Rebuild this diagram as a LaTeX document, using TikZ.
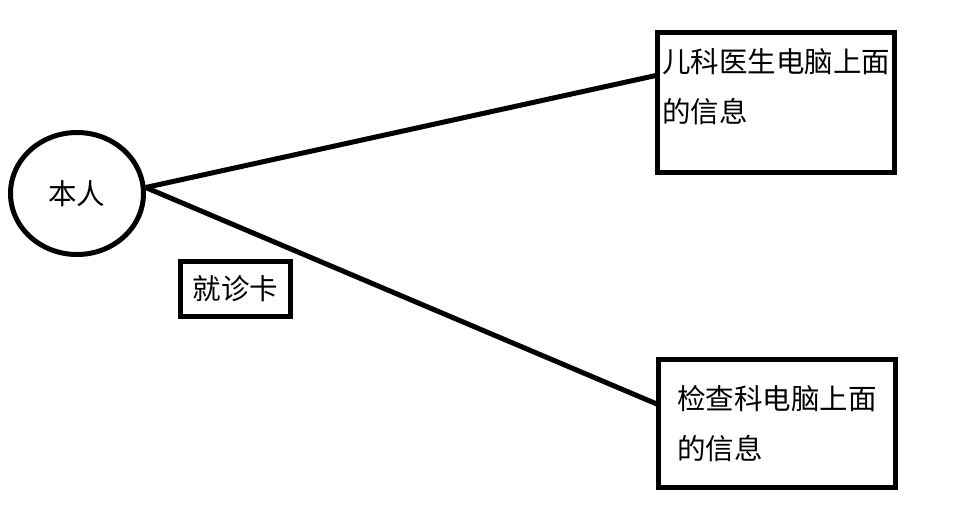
\documentclass[tikz,border=0pt]{standalone}
\usepackage{fontspec}
\newfontfamily\cjk{Noto Sans CJK SC}
\usetikzlibrary{shapes,positioning}

\begin{document}
\begin{tikzpicture}[
    x=1pt, y=-1pt,
    every node/.style={font=\cjk\fontsize{28.5}{49.5}\selectfont},
    person/.style={ellipse, draw, line width=5pt, minimum width=133pt, minimum height=122pt, inner sep=0pt},
    box/.style={rectangle, draw, line width=5pt, inner sep=0pt, outer sep=0pt, align=left},
    link/.style={line width=5pt}
  ]
    \useasboundingbox (0,0) rectangle (954,507);

    \node[person] (self) at (77,193.5) {本人};
    \node[box, minimum width=110pt, minimum height=55pt] (card) at (235.5,289) {就诊卡};
    \node[box, minimum width=237pt, minimum height=140pt, text depth=33.5pt] (pedinfo) at (776,102.5) {儿科医生电脑上面\\的信息};
    \node[box, minimum width=237pt, minimum height=128pt, below=187pt of pedinfo, xshift=1pt] (labinfo) {检查科电脑上面\\的信息};

    \draw[link] (self.5) -- (pedinfo.167);
    \draw[link] (self.5) -- (labinfo.171);
  \end{tikzpicture}
\end{document}
